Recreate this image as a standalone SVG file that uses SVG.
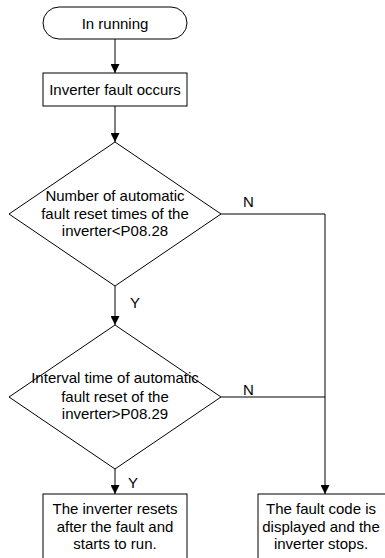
<svg xmlns="http://www.w3.org/2000/svg" width="385" height="558" viewBox="0 0 385 558">
<style>
.shape{fill:#fff;stroke:#000;stroke-width:1}
.conn{fill:none;stroke:#000;stroke-width:1}
text{font-family:"Liberation Sans",Arial,sans-serif;font-size:15px;fill:#000}
.c{text-anchor:middle}
</style>
<defs>
<marker id="arr" viewBox="0 0 10 10" refX="10" refY="5" markerWidth="9" markerHeight="9" markerUnits="userSpaceOnUse" orient="auto">
<path d="M0,0 L10,5 L0,10 z" fill="#000"/>
</marker>
</defs>
<rect width="385" height="558" fill="#fff"/>
<g id="connectors">
<line class="conn" x1="115" y1="39" x2="115" y2="73" marker-end="url(#arr)"/>
<line class="conn" x1="115" y1="106" x2="115" y2="142" marker-end="url(#arr)"/>
<line class="conn" x1="115" y1="286" x2="115" y2="325" marker-end="url(#arr)"/>
<line class="conn" x1="115" y1="469" x2="115" y2="494" marker-end="url(#arr)"/>
<polyline class="conn" points="221,214 325,214 325,494" marker-end="url(#arr)"/>
<line class="conn" x1="221" y1="397" x2="325" y2="397"/>
<text x="243" y="207">N</text>
<text x="243" y="395">N</text>
<text x="130" y="308">Y</text>
<text x="128" y="488">Y</text>
</g>
<g id="start">
<rect class="shape" x="43" y="7" width="144" height="32" rx="16" ry="16"/>
<text class="c" x="115" y="29">In running</text>
</g>
<g id="fault">
<rect class="shape" x="43" y="73" width="144" height="33"/>
<text class="c" x="115" y="95">Inverter fault occurs</text>
</g>
<g id="decision1">
<polygon class="shape" points="115,142 221,214 115,286 9,214"/>
<text class="c" x="115" y="201">Number of automatic</text>
<text class="c" x="115" y="218.5">fault reset times of the</text>
<text class="c" x="115" y="236">inverter&lt;P08.28</text>
</g>
<g id="decision2">
<polygon class="shape" points="115,325 221,397 115,469 9,397" style="fill:none"/>
<text class="c" x="115" y="383">Interval time of automatic</text>
<text class="c" x="115" y="401.5">fault reset of the</text>
<text class="c" x="115" y="419">inverter&gt;P08.29</text>
</g>
<g id="reset">
<rect class="shape" x="43" y="494" width="144" height="70"/>
<text class="c" x="115" y="514">The inverter resets</text>
<text class="c" x="115" y="532">after the fault and</text>
<text class="c" x="115" y="549">starts to run.</text>
</g>
<g id="stop">
<rect class="shape" x="258" y="494" width="134" height="70"/>
<text class="c" x="321" y="514">The fault code is</text>
<text class="c" x="321" y="532">displayed and the</text>
<text class="c" x="321" y="549">inverter stops.</text>
</g>
</svg>
